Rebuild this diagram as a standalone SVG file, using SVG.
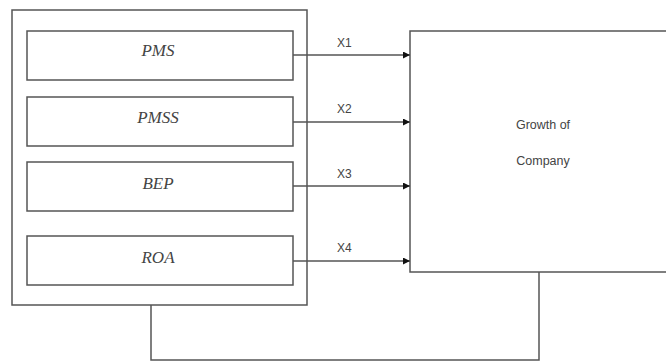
<svg xmlns="http://www.w3.org/2000/svg" width="666" height="363" viewBox="0 0 666 363">
<style>
.box{fill:#fff;stroke:#555;stroke-width:1.5}
.ln{fill:none;stroke:#555;stroke-width:1.5}
.it{font-family:"Liberation Serif","Times New Roman",serif;font-style:italic;font-size:17px;fill:#444;text-anchor:middle}
.lb{font-family:"Liberation Sans",Arial,sans-serif;font-size:12px;fill:#444}
.gc{font-family:"Liberation Sans",Arial,sans-serif;font-size:12.5px;fill:#444;text-anchor:middle}
</style>
<defs>
<marker id="ah" viewBox="0 0 10 10" refX="10" refY="5" markerWidth="9" markerHeight="7" markerUnits="userSpaceOnUse" orient="auto">
<path d="M0,0 L10,5 L0,10 z" fill="#111"/>
</marker>
</defs>
<rect width="666" height="363" fill="#fff"/>
<g id="outer"><rect class="box" x="12" y="10" width="295" height="295"/></g>
<g id="pms"><rect class="box" x="27" y="31" width="266" height="49"/><text class="it" x="158" y="56">PMS</text></g>
<g id="pmss"><rect class="box" x="27" y="97" width="266" height="49"/><text class="it" x="158" y="123">PMSS</text></g>
<g id="bep"><rect class="box" x="27" y="162" width="266" height="49"/><text class="it" x="158" y="189">BEP</text></g>
<g id="roa"><rect class="box" x="27" y="236" width="266" height="49"/><text class="it" x="158" y="263">ROA</text></g>
<g id="growth"><rect class="box" x="410" y="31" width="262" height="241"/><text class="gc" x="543" y="129">Growth of</text><text class="gc" x="543" y="165">Company</text></g>
<g id="connectors">
<line class="ln" x1="293" y1="55" x2="410" y2="55" marker-end="url(#ah)"/>
<line class="ln" x1="293" y1="122" x2="410" y2="122" marker-end="url(#ah)"/>
<line class="ln" x1="293" y1="186" x2="410" y2="186" marker-end="url(#ah)"/>
<line class="ln" x1="293" y1="261" x2="410" y2="261" marker-end="url(#ah)"/>
<polyline class="ln" points="151,305 151,360 539,360 539,272"/>
<text class="lb" x="337" y="47">X1</text>
<text class="lb" x="337" y="113">X2</text>
<text class="lb" x="337" y="178">X3</text>
<text class="lb" x="337" y="252">X4</text>
</g>
</svg>
